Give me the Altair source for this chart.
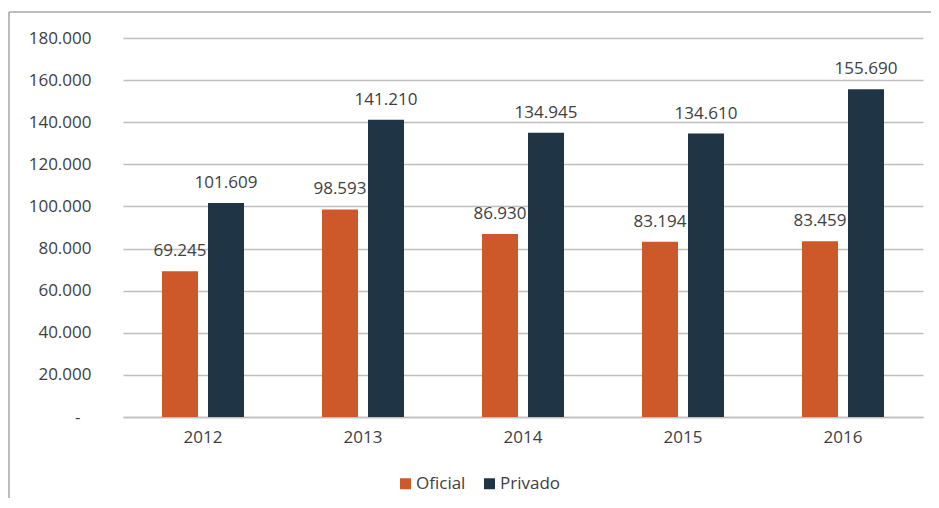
import altair as alt
import pandas as pd

years = ["2012", "2013", "2014", "2015", "2016"]
oficial = [69245, 98593, 86930, 83194, 83459]
privado = [101609, 141210, 134945, 134610, 155690]
series = ["Oficial", "Privado"]
colors = ["#CD582A", "#1F3545"]

rows = []
for i, y in enumerate(years):
    rows.append({"year": y, "series": "Oficial", "value": oficial[i]})
    rows.append({"year": y, "series": "Privado", "value": privado[i]})
df = pd.DataFrame(rows)

FONT = "Open Sans"
TXT = "#404040"

base = alt.Chart(df).encode(
    x=alt.X("year:N", sort=years, title=None,
            scale=alt.Scale(paddingInner=0, paddingOuter=0),
            axis=alt.Axis(labelAngle=0, ticks=False, domain=True, domainColor="#BFBFBF",
                          domainWidth=1.5, labelPadding=12, labelFontSize=17,
                          labelFont=FONT, labelColor=TXT, grid=False)),
    xOffset=alt.XOffset("series:N", sort=series,
                        scale=alt.Scale(paddingInner=0.2174, paddingOuter=0.8478)),
)

bars = base.mark_bar().encode(
    y=alt.Y("value:Q", title=None,
            scale=alt.Scale(domain=[0, 180000], nice=False),
            axis=alt.Axis(values=list(range(0, 180001, 20000)), ticks=False, domain=False,
                          labelPadding={"condition": {"test": "datum.value === 0", "value": 43}, "value": 32},
                          labelFontSize=17, labelFont=FONT, labelColor=TXT,
                          gridColor="#BFBFBF", gridWidth=1.5,
                          labelExpr="datum.value == 0 ? '-' : replace(format(datum.value, ','), ',', '.')")),
    color=alt.Color("series:N", sort=series, title=None,
                    scale=alt.Scale(domain=series, range=colors),
                    legend=alt.Legend(orient="none", direction="horizontal", legendX=274, legendY=437,
                                      symbolType="square", symbolSize=121, symbolStrokeWidth=0,
                                      labelFont=FONT, labelFontSize=17, labelColor=TXT,
                                      labelOffset=2, columnPadding=15)),
)

labels = base.mark_text(baseline="middle", dy=-20, font=FONT, fontSize=17, color=TXT).encode(
    y=alt.Y("value:Q"),
    text=alt.Text("label:N"),
).transform_calculate(label="replace(format(datum.value, ','), ',', '.')")

border_df = pd.DataFrame({"a": [0]})
left_border = alt.Chart(border_df).mark_rule(color="#A6A6A6", strokeWidth=1.5).encode(
    x=alt.value(-114), y=alt.value(-26), y2=alt.value(460))
top_border = alt.Chart(border_df).mark_rule(color="#A6A6A6", strokeWidth=1.5).encode(
    x=alt.value(-114), x2=alt.value(815), y=alt.value(-26))

chart = alt.layer(bars, labels, left_border, top_border).properties(
    width=800, height=379,
    autosize=alt.AutoSizeParams(type="none"),
    padding={"left": 115, "top": 30, "right": 8, "bottom": 83},
).configure(font=FONT, view=alt.ViewConfig(stroke=None))

chart.save("out.html", embed_options={"renderer": "svg", "actions": False})
